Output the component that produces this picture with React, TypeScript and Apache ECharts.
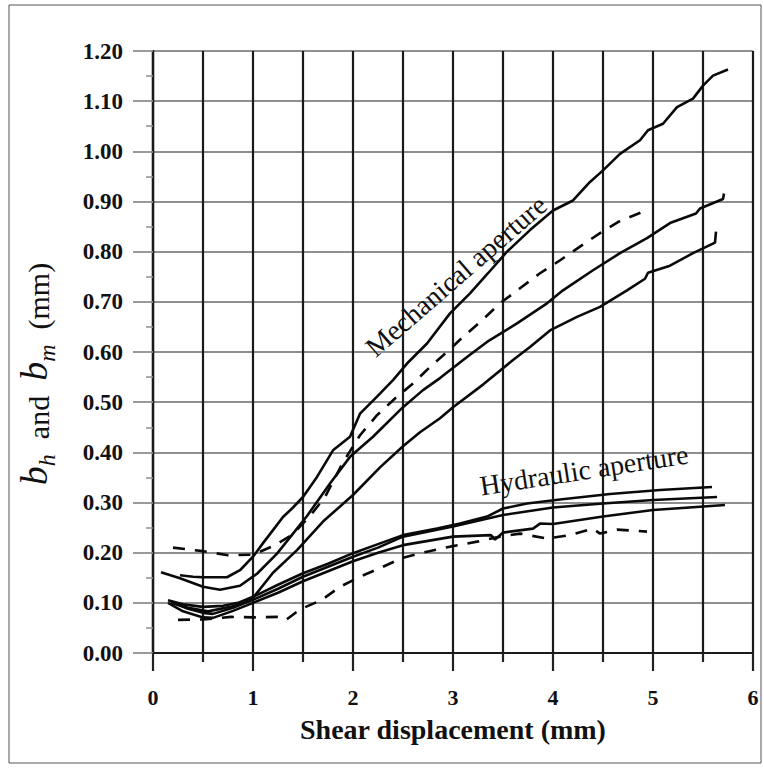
import React, { useEffect, useRef } from "react";
import * as echarts from "echarts";

// Mechanical aperture curves (x: shear displacement mm, y: aperture mm)
const mech1: number[][] = [
  [0.27, 0.155], [0.4, 0.152], [0.5, 0.151], [0.74, 0.151], [0.87, 0.165], [1.0, 0.192],
  [1.1, 0.219], [1.2, 0.245], [1.3, 0.271], [1.4, 0.29], [1.5, 0.311], [1.64, 0.351],
  [1.8, 0.404], [1.97, 0.431], [2.07, 0.477], [2.24, 0.511], [2.4, 0.544], [2.54, 0.577],
  [2.74, 0.617], [2.97, 0.677], [3.17, 0.717], [3.35, 0.757], [3.54, 0.8], [3.77, 0.843],
  [4.0, 0.882], [4.2, 0.902], [4.37, 0.939], [4.5, 0.962], [4.67, 0.995], [4.87, 1.022],
  [4.95, 1.042], [5.1, 1.055], [5.24, 1.088], [5.4, 1.105], [5.5, 1.131], [5.6, 1.151],
  [5.75, 1.163],
];
const mech2: number[][] = [
  [0.08, 0.161], [0.27, 0.149], [0.5, 0.132], [0.67, 0.126], [0.87, 0.134], [1.04, 0.158],
  [1.24, 0.198], [1.4, 0.238], [1.54, 0.273], [1.77, 0.338], [1.97, 0.391], [2.2, 0.431],
  [2.5, 0.49], [2.7, 0.524], [2.87, 0.548], [3.14, 0.59], [3.34, 0.62], [3.64, 0.657],
  [3.94, 0.697], [4.1, 0.723], [4.4, 0.763], [4.67, 0.797], [4.94, 0.827], [5.17, 0.857],
  [5.43, 0.876], [5.47, 0.886], [5.7, 0.905], [5.71, 0.916],
];
const mech3: number[][] = [
  [0.18, 0.1], [0.35, 0.09], [0.55, 0.083], [0.8, 0.093], [1.0, 0.11], [1.2, 0.16],
  [1.44, 0.205], [1.7, 0.262], [2.0, 0.315], [2.27, 0.37], [2.5, 0.412], [2.67, 0.44],
  [2.87, 0.468], [3.0, 0.49], [3.3, 0.535], [3.6, 0.584], [3.77, 0.61], [3.97, 0.643],
  [4.24, 0.67], [4.47, 0.69], [4.74, 0.723], [4.92, 0.746], [4.95, 0.758], [5.17, 0.772],
  [5.4, 0.797], [5.62, 0.818], [5.63, 0.84],
];
const mechDashed: number[][] = [
  [0.2, 0.21], [0.5, 0.203], [0.75, 0.195], [1.0, 0.196], [1.22, 0.215], [1.4, 0.237],
  [1.57, 0.273], [1.72, 0.311], [1.9, 0.38], [2.07, 0.434], [2.24, 0.474], [2.44, 0.511],
  [2.6, 0.537], [2.79, 0.574], [2.94, 0.6], [3.1, 0.63], [3.29, 0.663], [3.47, 0.697],
  [3.67, 0.727], [3.87, 0.757], [4.05, 0.78], [4.27, 0.81], [4.47, 0.837], [4.65, 0.859],
  [4.95, 0.884],
];

// Hydraulic aperture curves
const hyd1: number[][] = [
  [0.15, 0.105], [0.3, 0.097], [0.5, 0.092], [0.7, 0.094], [0.85, 0.1], [1.0, 0.112],
  [1.25, 0.136], [1.5, 0.159], [1.75, 0.178], [2.0, 0.199], [2.25, 0.217], [2.5, 0.235],
  [2.84, 0.248], [3.07, 0.258], [3.34, 0.272], [3.5, 0.288], [3.74, 0.298], [4.07, 0.306],
  [4.57, 0.317], [5.07, 0.325], [5.59, 0.331],
];
const hyd2: number[][] = [
  [0.2, 0.1], [0.35, 0.088], [0.5, 0.08], [0.6, 0.078], [0.8, 0.09], [1.0, 0.106],
  [1.25, 0.128], [1.5, 0.152], [1.75, 0.172], [2.0, 0.192], [2.25, 0.21], [2.5, 0.232],
  [3.0, 0.252], [3.5, 0.275], [4.0, 0.29], [4.5, 0.298], [5.0, 0.305], [5.64, 0.311],
];
const hyd3: number[][] = [
  [0.15, 0.1], [0.3, 0.083], [0.5, 0.071], [0.6, 0.07], [0.8, 0.084], [1.0, 0.1],
  [1.25, 0.12], [1.5, 0.143], [1.75, 0.163], [2.0, 0.183], [2.25, 0.2], [2.5, 0.215],
  [3.0, 0.232], [3.38, 0.235], [3.42, 0.226], [3.5, 0.24], [3.8, 0.248], [3.87, 0.258],
  [4.0, 0.257], [4.5, 0.272], [5.0, 0.285], [5.72, 0.295],
];
const hydDashed: number[][] = [
  [0.25, 0.066], [0.5, 0.067], [0.78, 0.072], [1.0, 0.071], [1.27, 0.072], [1.33, 0.066],
  [1.47, 0.087], [1.69, 0.106], [1.87, 0.132], [2.07, 0.152], [2.3, 0.172], [2.5, 0.19],
  [2.74, 0.202], [2.97, 0.212], [3.24, 0.222], [3.47, 0.232], [3.67, 0.238], [3.94, 0.228],
  [4.17, 0.235], [4.4, 0.248], [4.47, 0.238], [4.64, 0.246], [4.94, 0.242],
];

const X_MIN = 0;
const X_MAX = 6;
const Y_MIN = 0;
const Y_MAX = 1.2;
const xTitle = "Shear displacement (mm)";
const mechLabel = "Mechanical aperture";
const hydLabel = "Hydraulic aperture";

const SERIF = "'Liberation Serif', 'DejaVu Serif', 'Times New Roman', serif";

export default function App() {
  const ref = useRef<HTMLDivElement>(null);

  useEffect(() => {
    if (!ref.current) return;
    const chart = echarts.init(ref.current, undefined, { renderer: "svg" });

    const solid = (data: number[][]) => ({
      type: "line",
      data,
      showSymbol: false,
      symbol: "none",
      smooth: false,
      lineStyle: { color: "#0a0a0a", width: 2.6 },
      z: 5,
    });
    const dashed = (data: number[][]) => ({
      type: "line",
      data,
      showSymbol: false,
      symbol: "none",
      smooth: false,
      lineStyle: { color: "#0a0a0a", width: 2.6, type: [12, 10] },
      z: 5,
    });

    chart.setOption({
      animation: false,
      backgroundColor: "#ffffff",
      grid: { left: 153, top: 51, width: 600, height: 602, containLabel: false },
      xAxis: [
        {
          type: "value",
          min: X_MIN,
          max: X_MAX,
          interval: 1,
          position: "bottom",
          axisLine: { show: true, onZero: false, lineStyle: { color: "#444", width: 2 } },
          axisTick: { show: true, length: 18, lineStyle: { color: "#222", width: 2.2 } },
          minorTick: { show: true, splitNumber: 2, length: 9, lineStyle: { color: "#222", width: 2.2 } },
          splitLine: { show: true, lineStyle: { color: "#1a1a1a", width: 2.2 } },
          minorSplitLine: { show: true, lineStyle: { color: "#1a1a1a", width: 2.2 } },
          axisLabel: {
            margin: 33,
            fontFamily: SERIF,
            fontWeight: "bold",
            fontSize: 22,
            color: "#111",
          },
          name: xTitle,
          nameLocation: "middle",
          nameGap: 62,
          nameTextStyle: { fontFamily: SERIF, fontWeight: "bold", fontSize: 28, color: "#111" },
        },
        {
          type: "value",
          min: X_MIN,
          max: X_MAX,
          position: "top",
          axisLine: { show: true, lineStyle: { color: "#1a1a1a", width: 2.2 } },
          axisTick: { show: false },
          axisLabel: { show: false },
          splitLine: { show: false },
        },
      ],
      yAxis: [
        {
          type: "value",
          min: Y_MIN,
          max: Y_MAX,
          interval: 0.1,
          axisLine: { show: true, lineStyle: { color: "#1a1a1a", width: 2.2 } },
          axisTick: { show: true, length: 20, lineStyle: { color: "#8f8f8f", width: 1.8 } },
          minorTick: { show: true, splitNumber: 2, length: 7, lineStyle: { color: "#8f8f8f", width: 1.5 } },
          splitLine: { show: true, lineStyle: { color: "#8f8f8f", width: 1.8 } },
          axisLabel: {
            margin: 30,
            formatter: (v: number) => v.toFixed(2),
            fontFamily: SERIF,
            fontWeight: "bold",
            fontSize: 23,
            color: "#111",
          },
        },
        {
          type: "value",
          min: Y_MIN,
          max: Y_MAX,
          position: "right",
          axisLine: { show: true, lineStyle: { color: "#1a1a1a", width: 2.2 } },
          axisTick: { show: false },
          axisLabel: { show: false },
          splitLine: { show: false },
        },
      ],
      series: [
        solid(mech1),
        solid(mech2),
        solid(mech3),
        dashed(mechDashed),
        solid(hyd1),
        solid(hyd2),
        solid(hyd3),
        dashed(hydDashed),
      ],
      graphic: [
        {
          type: "rect",
          silent: true,
          shape: { x: 9, y: 5, width: 752, height: 758 },
          style: { fill: "none", stroke: "#555", lineWidth: 1 },
          z: 0,
        },
        {
          type: "text",
          x: 40,
          y: 374,
          rotation: Math.PI / 2,
          style: {
            text: "{b|b}{s|h}{t|  and  }{b|b}{s|m}{t|  (mm)}",
            align: "center",
            verticalAlign: "middle",
            fill: "#111",
            rich: {
              b: { fontFamily: SERIF, fontStyle: "italic", fontSize: 38, lineHeight: 38, padding: [0, 0, 6, 0], verticalAlign: "bottom", fill: "#111" },
              s: { fontFamily: SERIF, fontStyle: "italic", fontSize: 24, lineHeight: 24, verticalAlign: "bottom", fill: "#111" },
              t: { fontFamily: SERIF, fontSize: 30, lineHeight: 30, padding: [0, 0, 6, 0], verticalAlign: "bottom", fill: "#111" },
            },
          },
          z: 10,
        },
        {
          type: "text",
          x: 456,
          y: 276,
          rotation: (41 * Math.PI) / 180,
          style: {
            text: mechLabel,
            align: "center",
            verticalAlign: "middle",
            fontFamily: SERIF,
            fontSize: 28,
            fill: "#111",
          },
          z: 10,
        },
        {
          type: "text",
          x: 584,
          y: 470,
          rotation: (8.8 * Math.PI) / 180,
          style: {
            text: hydLabel,
            align: "center",
            verticalAlign: "middle",
            fontFamily: SERIF,
            fontSize: 28,
            fill: "#111",
          },
          z: 10,
        },
      ],
    });

    return () => chart.dispose();
  }, []);

  return (
    <div
      ref={ref}
      style={{ position: "fixed", left: 0, top: 0, width: 764, height: 773, background: "#fff" }}
    />
  );
}
